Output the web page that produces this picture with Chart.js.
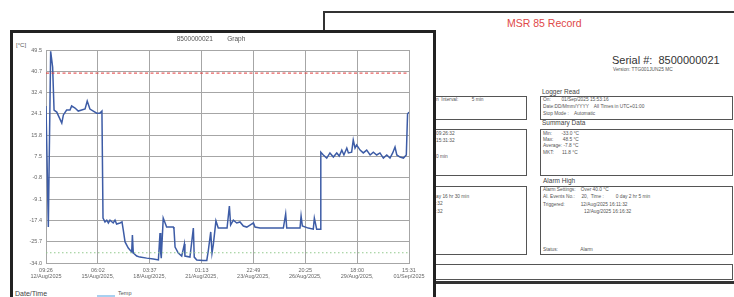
<!DOCTYPE html>
<html>
<head>
<meta charset="utf-8">
<script src="https://cdn.jsdelivr.net/npm/chart.js@4.4.1/dist/chart.umd.min.js"></script>
<style>
  html, body { margin: 0; padding: 0; background: #fff; }
  body { width: 734px; height: 297px; position: relative; overflow: hidden; font-family: "Liberation Sans", Arial, sans-serif; color: #444; }
  .abs { position: absolute; white-space: pre; line-height: 1; }
  /* back sheet (record) */
  .sheet { position: absolute; left: 323px; top: 11px; width: 440px; height: 268px; border-top: 2px solid #333; border-left: 2px solid #333; border-bottom: 3px solid #333; background: #fff; }
  .box { position: absolute; border: 1.5px solid #555; }
  .lbl { font-size: 6.5px; color: #444; }
  .sm { font-size: 4.8px; color: #555; }
  /* front sheet (graph) */
  .panel { position: absolute; left: 10px; top: 30px; width: 420px; height: 300px; border: 3px solid #222; background: #fff; }
  #chartWrap { position: absolute; left: 13px; top: 33px; width: 419px; height: 257px; }
</style>
</head>
<body>

<!-- Record sheet behind the graph -->
<div class="sheet"></div>
<div class="abs" style="left:507px;top:18px;font-size:10.5px;color:#e04848;">MSR 85 Record</div>
<div class="abs" style="left:612px;top:55px;font-size:11px;color:#333;">Serial #:  8500000021</div>
<div class="abs sm" style="left:613px;top:68px;">Version: TTG001JUN25 MC</div>

<div class="abs lbl" style="left:542px;top:89px;">Logger Read</div>
<div class="box" style="left:330px;top:96px;width:195px;height:22px;"></div>
<div class="box" style="left:540px;top:96px;width:191px;height:22px;"></div>
<div class="abs sm" style="left:436px;top:98px;">n  Interval:          5 min</div>
<div class="abs sm" style="left:543px;top:98px;">On:        01/Sep/2025 15:53:16</div>
<div class="abs sm" style="left:543px;top:105px;">Date:DD/Mmm/YYYY    All Times in UTC+01:00</div>
<div class="abs sm" style="left:543px;top:112px;">Stop Mode :    Automatic</div>

<div class="abs lbl" style="left:542px;top:120px;">Summary Data</div>
<div class="box" style="left:330px;top:129px;width:195px;height:45px;"></div>
<div class="box" style="left:540px;top:129px;width:191px;height:45px;"></div>
<div class="abs sm" style="left:436px;top:132px;">09:26:32</div>
<div class="abs sm" style="left:436px;top:139px;">15:31:32</div>
<div class="abs sm" style="left:436px;top:155px;">0 min</div>
<div class="abs sm" style="left:543px;top:132px;">Min:       -33.0 °C</div>
<div class="abs sm" style="left:543px;top:138px;">Max:       48.5 °C</div>
<div class="abs sm" style="left:543px;top:144px;">Average: -7.8 °C</div>
<div class="abs sm" style="left:543px;top:151px;">MKT:      11.8 °C</div>

<div class="abs lbl" style="left:543px;top:178px;">Alarm High</div>
<div class="box" style="left:330px;top:186px;width:195px;height:67px;"></div>
<div class="box" style="left:540px;top:186px;width:191px;height:67px;"></div>
<div class="abs sm" style="left:436px;top:195px;">ay 16 hr 30 min</div>
<div class="abs sm" style="left:436px;top:202px;">:32</div>
<div class="abs sm" style="left:436px;top:210px;">:32</div>
<div class="abs sm" style="left:543px;top:188px;">Alarm Settings:    Over 40.0 °C</div>
<div class="abs sm" style="left:543px;top:195px;">Al. Events No.:     20,  Time :         0 day 2 hr 5 min</div>
<div class="abs sm" style="left:543px;top:203px;">Triggered:            12/Aug/2025 16:11:32</div>
<div class="abs sm" style="left:584px;top:210px;">12/Aug/2025 16:16:32</div>
<div class="abs sm" style="left:543px;top:248px;">Status:                 Alarm</div>

<div class="box" style="left:330px;top:264px;width:401px;height:14px;"></div>

<!-- Graph sheet in front -->
<div class="panel"></div>
<div class="abs" style="left:16px;top:42px;font-size:6px;color:#555;">[°C]</div>
<div id="chartWrap"><canvas id="graph"></canvas></div>
<div class="abs" style="left:15px;top:290px;font-size:7px;color:#444;">Date/Time</div>
<div class="abs" style="left:97px;top:295px;width:18px;height:1.5px;background:#a8d0f0;"></div>
<div class="abs" style="left:118px;top:291px;font-size:5.5px;color:#555;">Temp</div>

<script>
// ---- data ----
// time since start of log, in days (start 12/Aug/2025 09:26)
const days = [0, 0.13, 0.26, 0.37, 0.45, 0.60, 0.88, 0.97, 1.15, 1.34,
  1.43, 1.62, 1.80, 1.99, 2.18, 2.30, 2.45, 2.83, 3.01, 3.12,
  3.18, 3.29, 3.39, 3.48, 3.57, 3.75, 3.85, 3.94, 4.13, 4.24,
  4.31, 4.41, 4.59, 4.78, 4.82, 4.87, 5.06, 5.24, 5.62, 5.99,
  6.27, 6.36, 6.40, 6.43, 6.54, 6.73, 7.10, 7.14, 7.20, 7.38,
  7.57, 7.72, 7.75, 8.03, 8.22, 8.27, 8.41, 8.78, 8.97, 9.06,
  9.19, 9.26, 9.33, 9.48, 9.61, 10.10, 10.23, 10.30, 10.45, 10.64,
  10.82, 11.01, 11.20, 11.38, 11.57, 11.66, 11.94, 13.24, 13.37, 13.43,
  14.17, 14.23, 14.30, 14.63, 14.91, 14.97, 15.10, 15.29, 15.33, 15.47,
  15.66, 15.84, 16.03, 16.22, 16.36, 16.50, 16.62, 16.78, 16.87, 17.05,
  17.14, 17.24, 17.33, 17.52, 17.70, 17.89, 18.08, 18.26, 18.45, 18.63,
  18.82, 19.01, 19.19, 19.34, 19.47, 19.57, 19.75, 19.94, 20.10, 20.17,
  20.25];

const temps = [27.2, -20.0, 48.5, 42.4, 25.6, 24.8, 20.5, 23.7, 25.6, 25.6,
  27.2, 26.4, 25.2, 25.6, 26.0, 29.1, 26.0, 24.4, 24.4, 25.2,
  -16.5, -18.0, -17.3, -18.4, -17.3, -18.4, -17.3, -18.8, -18.4, -18.0,
  -21.1, -25.8, -28.2, -29.7, -23.1, -30.1, -31.3, -31.7, -32.1, -32.4,
  -32.8, -22.3, -30.1, -32.1, -16.5, -20.0, -20.0, -20.8, -27.8, -30.1,
  -31.3, -26.6, -31.3, -31.7, -20.4, -31.7, -32.8, -33.0, -33.0, -28.9,
  -21.9, -30.1, -27.0, -17.6, -20.4, -20.4, -11.8, -19.2, -17.3, -18.4,
  -18.0, -19.6, -20.0, -19.2, -18.4, -20.0, -20.4, -20.4, -14.9, -20.4,
  -20.4, -15.7, -19.6, -20.4, -20.8, -16.5, -20.8, -20.8, 9.2, 8.1,
  6.9, 8.9, 7.3, 8.9, 7.7, 10.0, 8.1, 10.8, 8.9, 9.2,
  13.9, 10.8, 12.0, 10.0, 8.9, 10.0, 8.1, 9.2, 8.1, 8.9,
  6.9, 8.1, 6.9, 8.9, 11.2, 8.1, 7.3, 6.9, 8.1, 24.1,
  24.8];

const alarmHigh = 40.0;
const alarmLow = -30.0;

const yTickValues = [-34.0, -25.7, -17.4, -9.1, -0.8, 7.5, 15.8, 24.1, 32.4, 40.7, 49.0];
const yTickLabels = ['-34.0', '-25.7', '-17.4', '-9.1', '-0.8', '7.5', '15.8', '24.1', '32.4', '40.7', '49.5'];

const xSpanDays = 20.25;
const xTickTimes = ['09:26', '06:02', '03:37', '01:13', '22:49', '20:25', '18:00', '15:31'];
const xTickDates = ['12/Aug/2025', '15/Aug/2025,', '18/Aug/2025,', '21/Aug/2025,', '23/Aug/2025,', '26/Aug/2025,', '29/Aug/2025,', '01/Sep/2025'];

const tempPoints = days.map((d, i) => ({ x: d, y: temps[i] }));
const gridColor = '#a6a6a6';
const tickFont = { family: 'Liberation Sans', size: 5.5 };

new Chart(document.getElementById('graph'), {
  type: 'line',
  data: {
    datasets: [
      {
        label: 'Alarm High',
        data: [{ x: 0, y: alarmHigh }, { x: xSpanDays, y: alarmHigh }],
        borderColor: '#e03a3a',
        borderWidth: 1,
        borderDash: [3, 2.5],
        pointRadius: 0
      },
      {
        label: 'Alarm Low',
        data: [{ x: 0, y: alarmLow }, { x: xSpanDays, y: alarmLow }],
        borderColor: '#93c98d',
        borderWidth: 1.2,
        borderDash: [1.5, 2.5],
        pointRadius: 0
      },
      {
        label: 'Temp',
        data: tempPoints,
        borderColor: '#3d5ca6',
        borderWidth: 1.5,
        pointRadius: 0,
        tension: 0
      }
    ]
  },
  options: {
    responsive: true,
    maintainAspectRatio: false,
    animation: false,
    layout: { padding: { left: 0, right: 23, top: 0, bottom: 0 } },
    plugins: {
      legend: { display: false },
      tooltip: { enabled: false },
      title: {
        display: true,
        text: '8500000021        Graph',
        color: '#555',
        font: { family: 'Liberation Sans', size: 6.5, weight: 'normal' },
        padding: { top: 2, bottom: 7.2 }
      }
    },
    scales: {
      x: {
        type: 'linear',
        min: 0,
        max: xSpanDays,
        afterBuildTicks: axis => {
          axis.ticks = xTickTimes.map((t, i) => ({ value: i * xSpanDays / 7 }));
        },
        afterFit: scale => { scale.height = 27; },
        grid: { color: gridColor, lineWidth: 1, drawTicks: false },
        border: { color: gridColor },
        ticks: {
          color: '#666',
          font: tickFont,
          padding: 4,
          maxRotation: 0,
          autoSkip: false,
          callback: (v, i) => [xTickTimes[i], xTickDates[i]]
        }
      },
      y: {
        min: -34.0,
        max: 49.0,
        afterBuildTicks: axis => {
          axis.ticks = yTickValues.map(v => ({ value: v }));
        },
        afterFit: scale => { scale.width = 33; },
        grid: { color: gridColor, lineWidth: 1, drawTicks: false },
        border: { color: gridColor },
        ticks: {
          color: '#666',
          font: tickFont,
          padding: 4,
          autoSkip: false,
          callback: (v, i) => yTickLabels[i]
        }
      }
    }
  }
});
</script>
</body>
</html>
